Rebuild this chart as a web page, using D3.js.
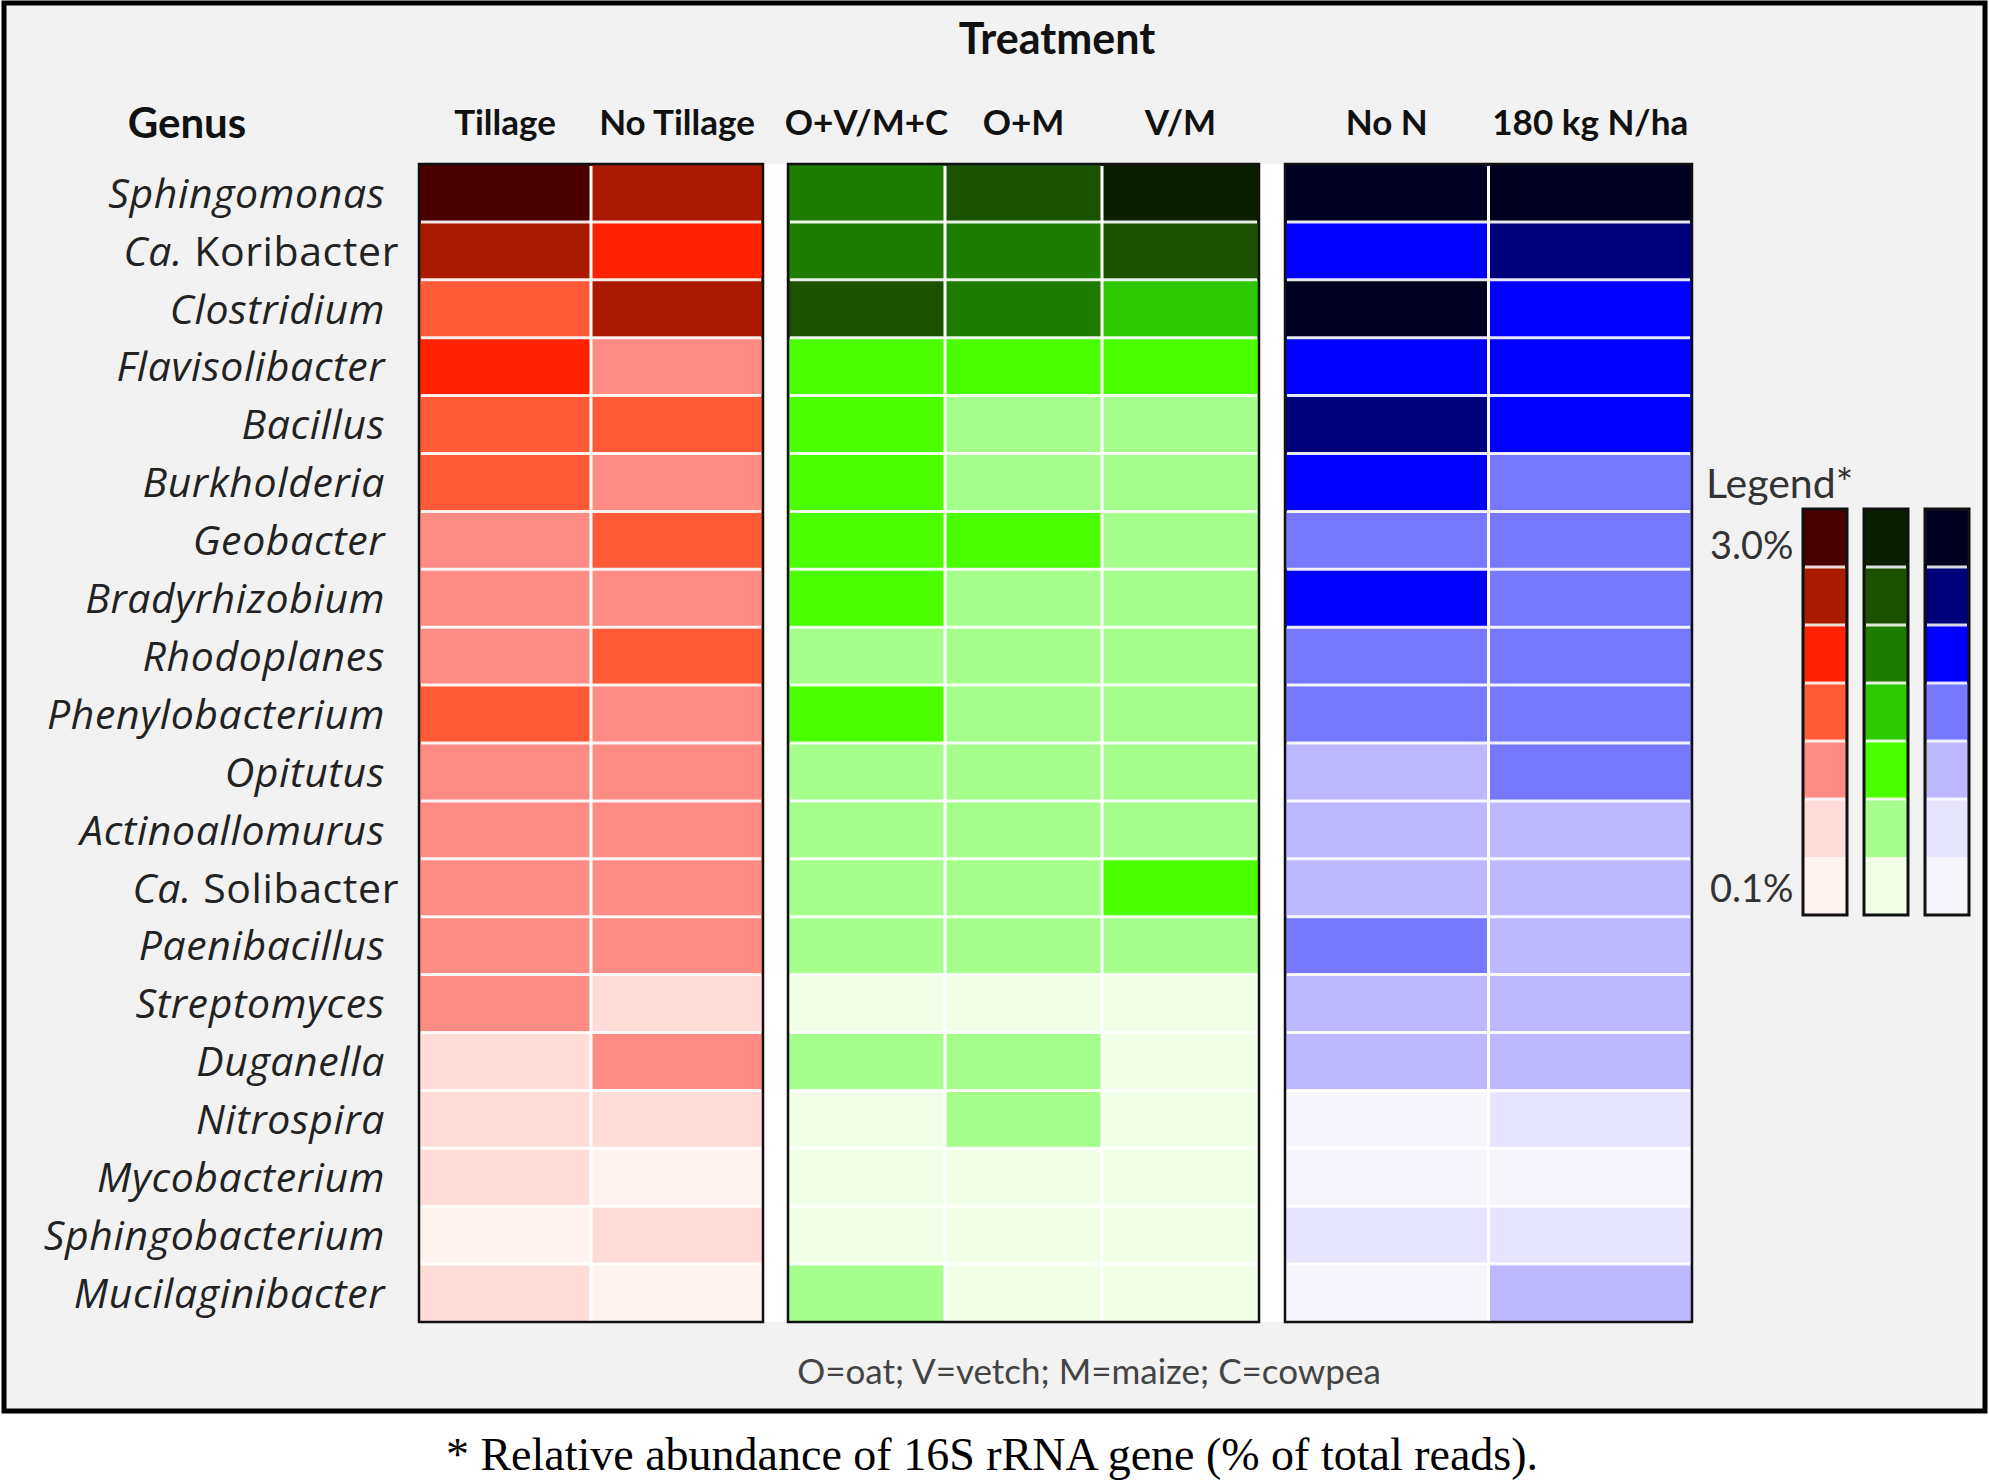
<!DOCTYPE html>
<html>
<head>
<meta charset="utf-8">
<script src="https://cdn.jsdelivr.net/npm/d3@7/dist/d3.min.js"></script>
<style>
  body { margin: 0; background: #fff; }
  text { font-family: Lato, "Open Sans", sans-serif; fill: #111; }
</style>
</head>
<body>
<svg id="chart"></svg>
<script>
// genus rows, top to bottom
const genera = ["Sphingomonas", "Ca. Koribacter", "Clostridium", "Flavisolibacter", "Bacillus",
  "Burkholderia", "Geobacter", "Bradyrhizobium", "Rhodoplanes", "Phenylobacterium", "Opitutus",
  "Actinoallomurus", "Ca. Solibacter", "Paenibacillus", "Streptomyces", "Duganella", "Nitrospira",
  "Mycobacterium", "Sphingobacterium", "Mucilaginibacter"];

const tillageCols = ["Tillage", "No Tillage"];
const coverCols = ["O+V/M+C", "O+M", "V/M"];
const nitrogenCols = ["No N", "180 kg N/ha"];

// abundance class per genus: 0 = 3.0% (darkest) ... 6 = 0.1% (lightest)
const tillage    = [0,1,3,2,3,3,4,4,4,3,4,4,4,4,4,5,5,5,6,5];
const noTillage  = [1,2,1,4,3,4,3,4,3,4,4,4,4,4,5,4,5,6,5,6];
const ovmc       = [2,2,1,4,4,4,4,4,5,4,5,5,5,5,6,5,6,6,6,5];
const om         = [1,2,2,4,5,5,4,5,5,5,5,5,5,5,6,5,5,6,6,6];
const vm         = [0,1,3,4,5,5,5,5,5,5,5,5,4,5,6,6,6,6,6,6];
const noN        = [0,2,0,2,1,2,3,2,3,3,4,4,4,3,4,4,6,6,5,6];
const n180       = [0,1,2,2,2,3,3,3,3,3,3,4,4,4,4,4,5,6,5,4];

const legendLevels = [0, 1, 2, 3, 4, 5, 6];
const redShades   = ["#4b0000", "#aa1a00", "#ff2200", "#ff5a38", "#ff8c84", "#ffdcd8", "#fff3ef"];
const greenShades = ["#0a1e00", "#1a5200", "#1e7d00", "#2ec800", "#4cff00", "#a6ff8c", "#f1ffe8"];
const blueShades  = ["#000020", "#00007a", "#0000ff", "#7878ff", "#bdb8ff", "#e6e4ff", "#f6f5fc"];

const W = 1989, H = 1481;
const svg = d3.select("#chart").attr("width", W).attr("height", H);

// frame
svg.append("rect").attr("x", 4).attr("y", 3).attr("width", W - 8).attr("height", 1408)
  .attr("fill", "#f2f2f2").attr("stroke", "#000").attr("stroke-width", 5);

const gridTop = 164, gridBottom = 1322;
const y = d3.scaleBand().domain(genera).range([gridTop, gridBottom]);

const panels = [
  { cols: tillageCols, values: [tillage, noTillage], shades: redShades, x0: 419, x1: 763 },
  { cols: coverCols, values: [ovmc, om, vm], shades: greenShades, x0: 788, x1: 1259 },
  { cols: nitrogenCols, values: [noN, n180], shades: blueShades, x0: 1285, x1: 1692 }
];

// white gaps between panels
svg.append("rect").attr("x", 763).attr("y", gridTop).attr("width", 25).attr("height", gridBottom - gridTop).attr("fill", "#fff");
svg.append("rect").attr("x", 1259).attr("y", gridTop).attr("width", 26).attr("height", gridBottom - gridTop).attr("fill", "#fff");

panels.forEach(p => {
  const x = d3.scaleBand().domain(p.cols).range([p.x0, p.x1]);
  const color = d3.scaleOrdinal().domain(legendLevels).range(p.shades);
  const g = svg.append("g");

  p.cols.forEach((c, ci) => {
    g.selectAll(null)
      .data(genera.map((gn, i) => ({ genus: gn, level: p.values[ci][i] })))
      .enter().append("rect")
      .attr("x", x(c)).attr("y", d => y(d.genus))
      .attr("width", x.bandwidth()).attr("height", y.bandwidth())
      .attr("fill", d => color(d.level));
  });

  // white grid lines
  g.selectAll(".hl").data(genera.slice(1)).enter().append("line")
    .attr("x1", p.x0 + 2).attr("x2", p.x1 - 2)
    .attr("y1", d => y(d)).attr("y2", d => y(d))
    .attr("stroke", "#fff").attr("stroke-width", 3).attr("stroke-opacity", 0.9);
  g.selectAll(".vl").data(p.cols.slice(1)).enter().append("line")
    .attr("x1", d => x(d)).attr("x2", d => x(d))
    .attr("y1", gridTop + 2).attr("y2", gridBottom)
    .attr("stroke", "#fff").attr("stroke-width", 3);

  g.append("rect").attr("x", p.x0).attr("y", gridTop).attr("width", p.x1 - p.x0).attr("height", gridBottom - gridTop)
    .attr("fill", "none").attr("stroke", "#111").attr("stroke-width", 2.5);

  // column headers
  svg.selectAll(null).data(p.cols).enter().append("text")
    .attr("x", d => x(d) + x.bandwidth() / 2).attr("y", 135)
    .attr("text-anchor", "middle").attr("font-weight", "bold").attr("font-size", 35)
    .text(d => d);
});

svg.append("text").attr("x", 1057).attr("y", 54).attr("text-anchor", "middle")
  .attr("font-weight", "bold").attr("font-size", 43).text("Treatment");
svg.append("text").attr("x", 187).attr("y", 138).attr("text-anchor", "middle")
  .attr("font-weight", "bold").attr("font-size", 42).text("Genus");

// genus labels
genera.forEach(gn => {
  const ty = y(gn) + y.bandwidth() / 2;
  const t = svg.append("text").attr("y", ty).attr("dy", "0.36em")
    .attr("text-anchor", "end").attr("font-size", 41).attr("letter-spacing", 0.6)
    .style("font-family", "'Open Sans', sans-serif").style("fill", "#222");
  if (gn.startsWith("Ca. ")) {
    t.attr("x", 399);
    t.append("tspan").attr("font-style", "italic").text("Ca.");
    t.append("tspan").text(" " + gn.slice(4));
  } else {
    t.attr("x", 385).attr("font-style", "italic").text(gn);
  }
});

// legend
svg.append("text").attr("x", 1706).attr("y", 498).attr("font-size", 41).style("fill", "#333").text("Legend*");
svg.append("text").attr("x", 1710).attr("y", 559).attr("font-size", 38).style("fill", "#333").text("3.0%");
svg.append("text").attr("x", 1710).attr("y", 902).attr("font-size", 38).style("fill", "#333").text("0.1%");

const ly = d3.scaleBand().domain(legendLevels).range([509, 915]);
const legendCols = [
  { shades: redShades, x: 1803 },
  { shades: greenShades, x: 1864 },
  { shades: blueShades, x: 1925 }
];
legendCols.forEach(lc => {
  const color = d3.scaleOrdinal().domain(legendLevels).range(lc.shades);
  const g = svg.append("g");
  g.selectAll("rect").data(legendLevels).enter().append("rect")
    .attr("x", lc.x).attr("y", d => ly(d)).attr("width", 44).attr("height", ly.bandwidth())
    .attr("fill", d => color(d));
  g.selectAll("line").data(legendLevels.slice(1, 6)).enter().append("line")
    .attr("x1", lc.x + 2).attr("x2", lc.x + 42).attr("y1", d => ly(d)).attr("y2", d => ly(d))
    .attr("stroke", "#fff").attr("stroke-width", 3).attr("stroke-opacity", 0.85);
  g.append("rect").attr("x", lc.x).attr("y", 509).attr("width", 44).attr("height", 915 - 509)
    .attr("fill", "none").attr("stroke", "#111").attr("stroke-width", 3);
});

svg.append("text").attr("x", 1089).attr("y", 1384).attr("text-anchor", "middle")
  .attr("font-size", 35).style("fill", "#444").text("O=oat; V=vetch; M=maize; C=cowpea");

svg.append("text").attr("x", 992).attr("y", 1470).attr("text-anchor", "middle")
  .attr("font-size", 46).style("font-family", "'Liberation Serif', 'Times New Roman', serif").style("fill", "#000")
  .text("* Relative abundance of 16S rRNA gene (% of total reads).");
</script>
</body>
</html>
